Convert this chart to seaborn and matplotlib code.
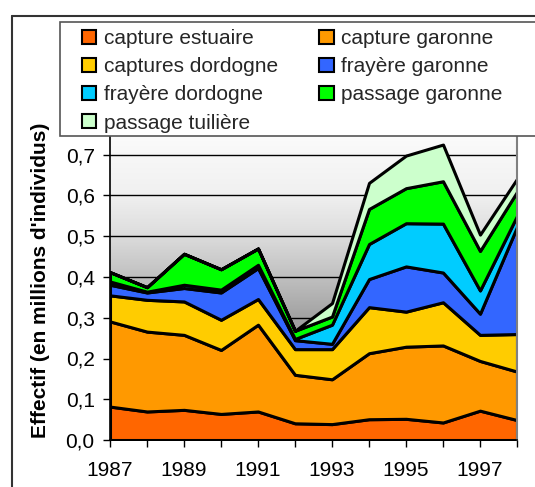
import numpy as np
import pandas as pd
import matplotlib
matplotlib.use("Agg")
import matplotlib.pyplot as plt
import seaborn as sns
from matplotlib.colors import LinearSegmentedColormap
from matplotlib.patches import Rectangle, Patch
from matplotlib.lines import Line2D

years = list(range(1987, 1999))
series_names = ["capture estuaire", "capture garonne", "captures dordogne",
                "frayère garonne", "frayère dordogne", "passage garonne",
                "passage tuilière"]
capture_estuaire = [0.082, 0.070, 0.074, 0.064, 0.070, 0.041, 0.039, 0.051, 0.052, 0.043, 0.072, 0.049]
capture_garonne = [0.209, 0.196, 0.184, 0.157, 0.213, 0.119, 0.110, 0.162, 0.177, 0.189, 0.122, 0.119]
captures_dordogne = [0.064, 0.078, 0.082, 0.074, 0.063, 0.063, 0.074, 0.113, 0.086, 0.106, 0.064, 0.092]
frayere_garonne = [0.026, 0.018, 0.033, 0.067, 0.076, 0.022, 0.013, 0.069, 0.111, 0.073, 0.052, 0.263]
frayere_dordogne = [0.008, 0.002, 0.008, 0.007, 0.008, 0.003, 0.047, 0.086, 0.106, 0.120, 0.057, 0.027]
passage_garonne = [0.023, 0.011, 0.076, 0.050, 0.040, 0.020, 0.020, 0.086, 0.086, 0.104, 0.097, 0.059]
passage_tuiliere = [0, 0, 0, 0, 0, 0, 0.033, 0.064, 0.080, 0.090, 0.040, 0.032]
colors = ["#FF6600", "#FF9900", "#FFCC00", "#3366FF", "#00CCFF", "#00FF00", "#CCFFCC"]
y_ticks = [0.0, 0.1, 0.2, 0.3, 0.4, 0.5, 0.6, 0.7]

df = pd.DataFrame({
    "annee": years,
    series_names[0]: capture_estuaire,
    series_names[1]: capture_garonne,
    series_names[2]: captures_dordogne,
    series_names[3]: frayere_garonne,
    series_names[4]: frayere_dordogne,
    series_names[5]: passage_garonne,
    series_names[6]: passage_tuiliere,
})

sns.set_theme(style="white")
plt.rcParams["font.family"] = ["Liberation Sans", "DejaVu Sans"]
FS = 15

W, H = 535, 487
fig = plt.figure(figsize=(W / 100, H / 100), dpi=100)
ax = fig.add_axes([110 / W, 1 - 440 / H, (517 - 110) / W, (440 - 114) / H])

# grey gradient background: white at the top, grey towards the bottom
f = np.linspace(1, 0, 256)  # first row is the bottom with origin="lower"
cmap = LinearSegmentedColormap.from_list(
    "bg", [(0.0, "#ffffff"), (0.25, "#f0f0f0"), (0.375, "#dcdcdc"),
           (0.5, "#c0c0c0"), (0.625, "#a2a2a2"), (1.0, "#808080")])
ax.imshow(f[:, None], extent=[1987, 1998, 0.0, 0.8], aspect="auto", cmap=cmap,
          zorder=0, origin="lower", vmin=0, vmax=1)

ax.stackplot(df["annee"], [df[c] for c in series_names], colors=colors,
             edgecolor="black", linewidth=2.2, zorder=2)

ax.set_xlim(1987, 1998)
ax.set_ylim(0, 0.8)
ax.set_yticks(y_ticks)
ax.set_yticklabels([f"{v:.1f}".replace(".", ",") for v in y_ticks])
ax.set_xticks(years)
ax.set_xticklabels([str(y) if (y - 1987) % 2 == 0 else "" for y in years])
ax.set_axisbelow(True)
ax.yaxis.grid(True, color="black", linewidth=1.0)
ax.xaxis.grid(False)
ax.tick_params(axis="both", which="both", direction="out", length=5, width=1,
               color="black", labelsize=FS, labelcolor="black",
               left=True, bottom=True)
ax.tick_params(axis="y", pad=6)
ax.tick_params(axis="x", pad=10)
for side in ["left", "bottom"]:
    ax.spines[side].set_color("black")
    ax.spines[side].set_linewidth(1.2)
ax.spines["right"].set_color("#808080")
ax.spines["right"].set_linewidth(1.5)
ax.spines["top"].set_visible(False)

ax.set_ylabel("Effectif (en millions d'individus)", fontsize=15,
              fontweight="bold", color="black")
ax.yaxis.set_label_coords(-0.147, 0.49)

# outer chart frame (top and left edges)
fig.add_artist(Line2D([12 / W, 12 / W], [0, 1 - 16 / H], transform=fig.transFigure,
                      color="#333333", linewidth=1.5))
fig.add_artist(Line2D([12 / W, 1], [1 - 16 / H, 1 - 16 / H], transform=fig.transFigure,
                      color="#333333", linewidth=1.5))

# legend box
fig.add_artist(Rectangle((60 / W, 1 - 136 / H), (560 - 60) / W, (136 - 22) / H,
                         transform=fig.transFigure, facecolor="white",
                         edgecolor="#555555", linewidth=1.2, zorder=5))
handles = [Patch(facecolor=c, edgecolor="black", linewidth=1.5) for c in colors]
order = [0, 2, 4, 6, 1, 3, 5]
leg = fig.legend([handles[i] for i in order], [series_names[i] for i in order],
                 ncol=2, loc="upper left", bbox_to_anchor=(80 / W, 1 - 27 / H),
                 frameon=False, fontsize=FS, handlelength=0.68, handleheight=0.68,
                 handletextpad=0.35, labelspacing=0.44, columnspacing=2.0,
                 borderaxespad=0, borderpad=0.1)
leg.set_zorder(6)

fig.savefig("out.png", dpi=100)
